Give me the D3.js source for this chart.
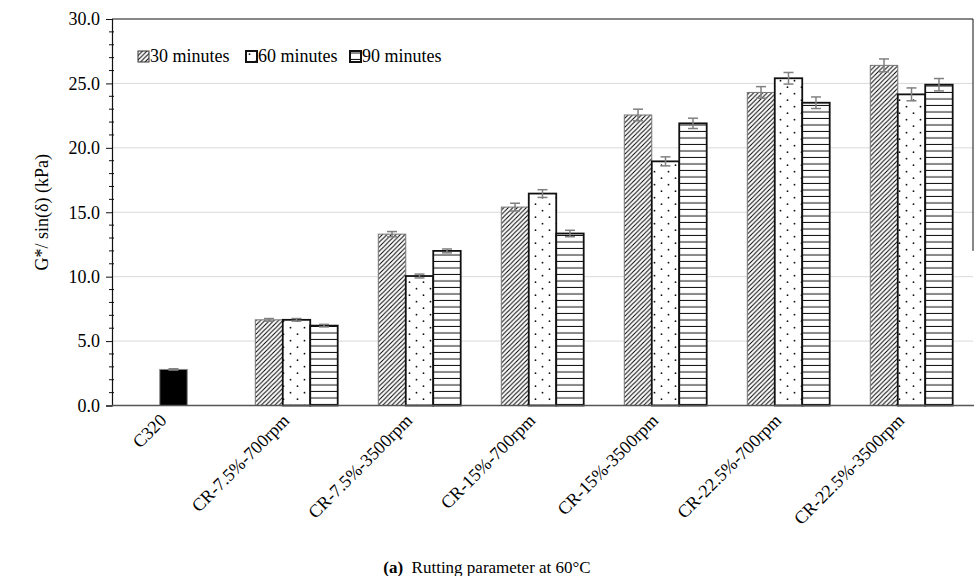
<!DOCTYPE html>
<html>
<head>
<meta charset="utf-8">
<script src="https://cdn.jsdelivr.net/npm/d3@7"></script>
<style>
  body { margin: 0; background: white; }
  text { font-family: "Liberation Serif", "Times New Roman", serif; fill: #000; }
</style>
</head>
<body>
<div id="chart"></div>
<script>
const categories = ["C320", "CR-7.5%-700rpm", "CR-7.5%-3500rpm", "CR-15%-700rpm",
  "CR-15%-3500rpm", "CR-22.5%-700rpm", "CR-22.5%-3500rpm"];
const seriesNames = ["30 minutes", "60 minutes", "90 minutes"];

// C320 is the plain binder, only one bar
const controlValue = 2.8;
const controlError = 0.05;

const min30 = [null, 6.65, 13.3, 15.4, 22.55, 24.3, 26.4];
const min60 = [null, 6.65, 10.05, 16.45, 18.95, 25.4, 24.15];
const min90 = [null, 6.2, 12.0, 13.35, 21.9, 23.5, 24.9];
const err30 = [null, 0.1, 0.2, 0.3, 0.45, 0.45, 0.5];
const err60 = [null, 0.1, 0.15, 0.3, 0.35, 0.45, 0.5];
const err90 = [null, 0.1, 0.15, 0.25, 0.4, 0.45, 0.48];

const yTicks = [0, 5, 10, 15, 20, 25, 30];

const W = 974, H = 576;
const margin = { top: 19, right: 1, bottom: 170.5, left: 112 };
const width = W - margin.left - margin.right;
const height = H - margin.top - margin.bottom;

const svg = d3.select("#chart").append("svg")
  .attr("width", W).attr("height", H);

const defs = svg.append("defs");

// diagonal hatch
const hatch = defs.append("pattern").attr("id", "hatch")
  .attr("patternUnits", "userSpaceOnUse").attr("width", 4.5).attr("height", 4.5);
hatch.append("rect").attr("width", 4.5).attr("height", 4.5).attr("fill", "white");
hatch.append("path")
  .attr("d", "M-1,1 l2,-2 M0,4.5 l4.5,-4.5 M3.5,5.5 l2,-2")
  .attr("stroke", "#000").attr("stroke-width", 1);

// sparse dots
const dots = defs.append("pattern").attr("id", "dots")
  .attr("patternUnits", "userSpaceOnUse").attr("width", 14).attr("height", 13);
dots.append("rect").attr("width", 14).attr("height", 13).attr("fill", "white");
dots.append("circle").attr("cx", 3.5).attr("cy", 3.2).attr("r", 0.9).attr("fill", "#111");
dots.append("circle").attr("cx", 10.5).attr("cy", 9.7).attr("r", 0.9).attr("fill", "#111");

// horizontal lines
const hlines = defs.append("pattern").attr("id", "hlines")
  .attr("patternUnits", "userSpaceOnUse").attr("width", 8).attr("height", 6.5)
  .attr("y", margin.top + height);
hlines.append("rect").attr("width", 8).attr("height", 6.5).attr("fill", "white");
hlines.append("rect").attr("y", 5.5).attr("width", 8).attr("height", 1.6).attr("fill", "#111");

const fills = ["url(#hatch)", "url(#dots)", "url(#hlines)"];
const strokes = ["#777", "#111", "#111"];
const strokeW = [1, 1.8, 1.8];

const g = svg.append("g")
  .attr("transform", `translate(${margin.left},${margin.top})`);

const x0 = d3.scaleBand().domain(categories).range([0, width]).padding(0);
const groupW = x0.bandwidth() * 0.67;
const x1 = d3.scaleBand().domain(seriesNames).range([0, groupW]).padding(0);
const y = d3.scaleLinear().domain([0, 30]).range([height, 0]);

// gridlines
g.append("g").selectAll("line")
  .data(yTicks.filter(d => d > 0 && d < 30))
  .join("line")
  .attr("x1", 0).attr("x2", width)
  .attr("y1", d => y(d)).attr("y2", d => y(d))
  .attr("stroke", "#d9d9d9").attr("stroke-width", 1);

// frame: top and right
g.append("line").attr("x1", 0).attr("x2", width).attr("y1", y(30)).attr("y2", y(30))
  .attr("stroke", "#111").attr("stroke-width", 1);
g.append("line").attr("x1", width).attr("x2", width).attr("y1", y(30)).attr("y2", y(12))
  .attr("stroke", "#111").attr("stroke-width", 1);

const bars = [];
[min30, min60, min90].forEach((vals, si) => {
  vals.forEach((v, ci) => {
    if (v == null) return;
    bars.push({ cat: categories[ci], s: si, value: v, err: [err30, err60, err90][si][ci] });
  });
});

const offset = (x0.bandwidth() - groupW) / 2;

g.append("g").selectAll("rect")
  .data(bars)
  .join("rect")
  .attr("x", d => x0(d.cat) + offset + x1(seriesNames[d.s]))
  .attr("y", d => y(d.value))
  .attr("width", x1.bandwidth())
  .attr("height", d => y(0) - y(d.value))
  .attr("fill", d => fills[d.s])
  .attr("stroke", d => strokes[d.s])
  .attr("stroke-width", d => strokeW[d.s]);

// control bar
const cw = x1.bandwidth();
g.append("rect")
  .attr("x", x0(categories[0]) + x0.bandwidth() / 2 - cw / 2)
  .attr("y", y(controlValue))
  .attr("width", cw)
  .attr("height", y(0) - y(controlValue))
  .attr("fill", "#000").attr("stroke", "#888").attr("stroke-width", 1);

// error bars
const errs = bars.map(d => ({ cx: x0(d.cat) + offset + x1(seriesNames[d.s]) + cw / 2, v: d.value, e: d.err }));
errs.push({ cx: x0(categories[0]) + x0.bandwidth() / 2, v: controlValue, e: controlError });

const eg = g.append("g").attr("stroke", "#808080").attr("stroke-width", 1.5).attr("fill", "none");
errs.forEach(d => {
  eg.append("line").attr("x1", d.cx).attr("x2", d.cx).attr("y1", y(d.v - d.e)).attr("y2", y(d.v + d.e));
  eg.append("line").attr("x1", d.cx - 5).attr("x2", d.cx + 5).attr("y1", y(d.v + d.e)).attr("y2", y(d.v + d.e));
  eg.append("line").attr("x1", d.cx - 5).attr("x2", d.cx + 5).attr("y1", y(d.v - d.e)).attr("y2", y(d.v - d.e));
});

// y axis
const yAxis = d3.axisLeft(y).tickValues(yTicks).tickFormat(d => d.toFixed(1))
  .tickSize(6).tickPadding(6);
const ya = g.append("g").call(yAxis);
ya.select(".domain").attr("stroke", "#111").attr("stroke-width", 1.2);
ya.selectAll(".tick line").attr("stroke", "#111");
ya.selectAll(".tick text").style("font-size", "18px").style("font-family", "Liberation Serif");

// minor ticks
g.append("g").selectAll("line")
  .data(d3.range(0, 31).filter(d => d % 5 !== 0))
  .join("line")
  .attr("x1", -3).attr("x2", 2)
  .attr("y1", d => y(d)).attr("y2", d => y(d))
  .attr("stroke", "#111");

// x axis line
g.append("line").attr("x1", 0).attr("x2", width + 1).attr("y1", y(0)).attr("y2", y(0))
  .attr("stroke", "#555").attr("stroke-width", 1.5);

// x labels
g.append("g").selectAll("text")
  .data(categories)
  .join("text")
  .attr("transform", d => `translate(${x0(d) + x0.bandwidth() / 2 - 6},${height + 16}) rotate(-45)`)
  .attr("text-anchor", "end")
  .style("font-size", "18px")
  .text(d => d);

// y title
svg.append("text")
  .attr("transform", `translate(48,${margin.top + height / 2}) rotate(-90)`)
  .attr("text-anchor", "middle")
  .style("font-size", "18px")
  .text("G*/ sin(δ) (kPa)");

// legend
const legend = svg.append("g").attr("transform", "translate(0,51)");
const legendX = [138, 246, 350];
seriesNames.forEach((s, i) => {
  const lg = legend.append("g").attr("transform", `translate(${legendX[i]},0)`);
  lg.append("rect").attr("x", 0).attr("y", 0).attr("width", 11).attr("height", 11)
    .attr("fill", fills[i]).attr("stroke", i === 0 ? "#333" : "#111")
    .attr("stroke-width", i === 0 ? 1 : 2);
  lg.append("text").attr("x", 12).attr("y", 11).style("font-size", "18px").text(s);
});

// caption
const cap = svg.append("text")
  .attr("x", W / 2).attr("y", 573).attr("text-anchor", "middle")
  .style("font-size", "17px");
cap.append("tspan").style("font-weight", "bold").text("(a)");
cap.append("tspan").text("\u00a0 Rutting parameter at 60°C");
</script>
</body>
</html>
